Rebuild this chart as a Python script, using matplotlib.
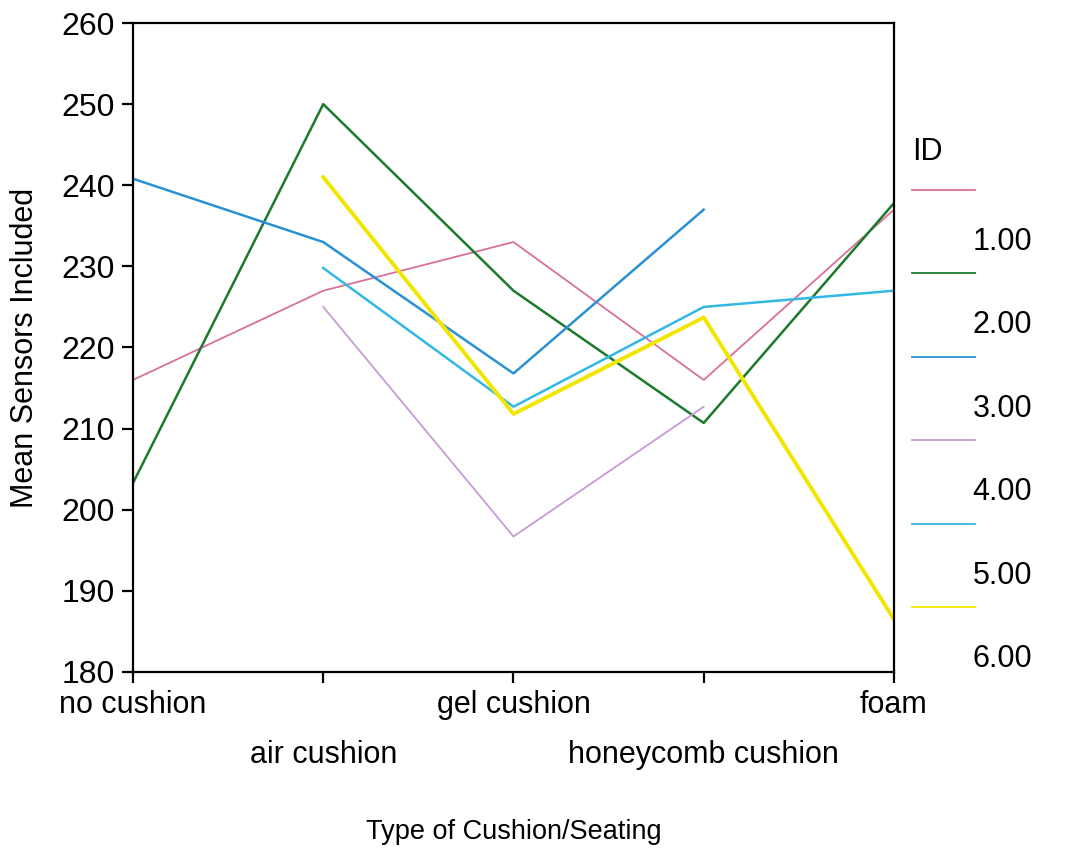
import numpy as np
import matplotlib.pyplot as plt
from matplotlib.lines import Line2D

plt.rcParams['font.family'] = ['Liberation Sans', 'DejaVu Sans']

categorias = ['no cushion', 'air cushion', 'gel cushion', 'honeycomb cushion', 'foam']
ids = ['1.00', '2.00', '3.00', '4.00', '5.00', '6.00']
nan = np.nan

id1 = [216, 227, 233, 216, 237]
id2 = [203.3, 250, 227, 210.7, 237.8]
id3 = [240.8, 233, 216.8, 237, nan]
id4 = [nan, 225, 196.7, 212.7, nan]
id5 = [nan, 229.8, 212.7, 225, 227]
id6 = [nan, 241, 211.8, 223.7, 186.5]
series = [id1, id2, id3, id4, id5, id6]

colores = ['#d8709c', '#1b7a2c', '#2a92d2', '#c89ad6', '#33b8e2', '#f2e600']
grosores = [1.3, 1.8, 1.8, 1.3, 1.8, 2.8]

fig = plt.figure(figsize=(10.65, 8.49), dpi=100)
ax = fig.add_axes([0.1249, 0.2085, 0.7145, 0.7644])

x = np.arange(len(categorias))
for y, c, lw in zip(series, colores, grosores):
    ax.plot(x, y, color=c, linewidth=lw)

ax.set_xlim(0, 4)
ax.set_ylim(180, 260)
ax.set_yticks(np.arange(180, 261, 10))
ax.set_xticks(x)
ax.set_xticklabels(categorias)
for i, lab in enumerate(ax.get_xticklabels()):
    if i % 2:
        lab.set_y(-0.077)

for s in ax.spines.values():
    s.set_linewidth(1.6)
ax.tick_params(direction='out', length=8, width=1.6, pad=5)
ax.tick_params(axis='y', labelsize=23)
ax.tick_params(axis='x', labelsize=22)

ax.set_xlabel('Type of Cushion/Seating', fontsize=19.5)
ax.xaxis.set_label_coords(0.5, -0.2465)
ax.xaxis.label.set_va('center')
ax.set_ylabel('Mean Sensors Included', fontsize=22)
ax.yaxis.set_label_coords(-0.142, 0.5)
ax.yaxis.label.set_va('center')

# leyenda dibujada a mano: etiquetas desplazadas entre las lineas
W, H = 1065, 849
fig.text(912 / W, 1 - 152 / H, 'ID', fontsize=22, ha='left', va='center')
for i, (nombre, c) in enumerate(zip(ids, colores)):
    yl = 1 - (190 + 83.4 * i) / H
    fig.add_artist(Line2D([912 / W, 975 / W], [yl, yl], color=c, linewidth=1.3))
    yt = 1 - (242 + 83.4 * i) / H
    fig.text(1032 / W, yt, nombre, fontsize=22, ha='right', va='center')

plt.savefig('out.png', dpi=100)
